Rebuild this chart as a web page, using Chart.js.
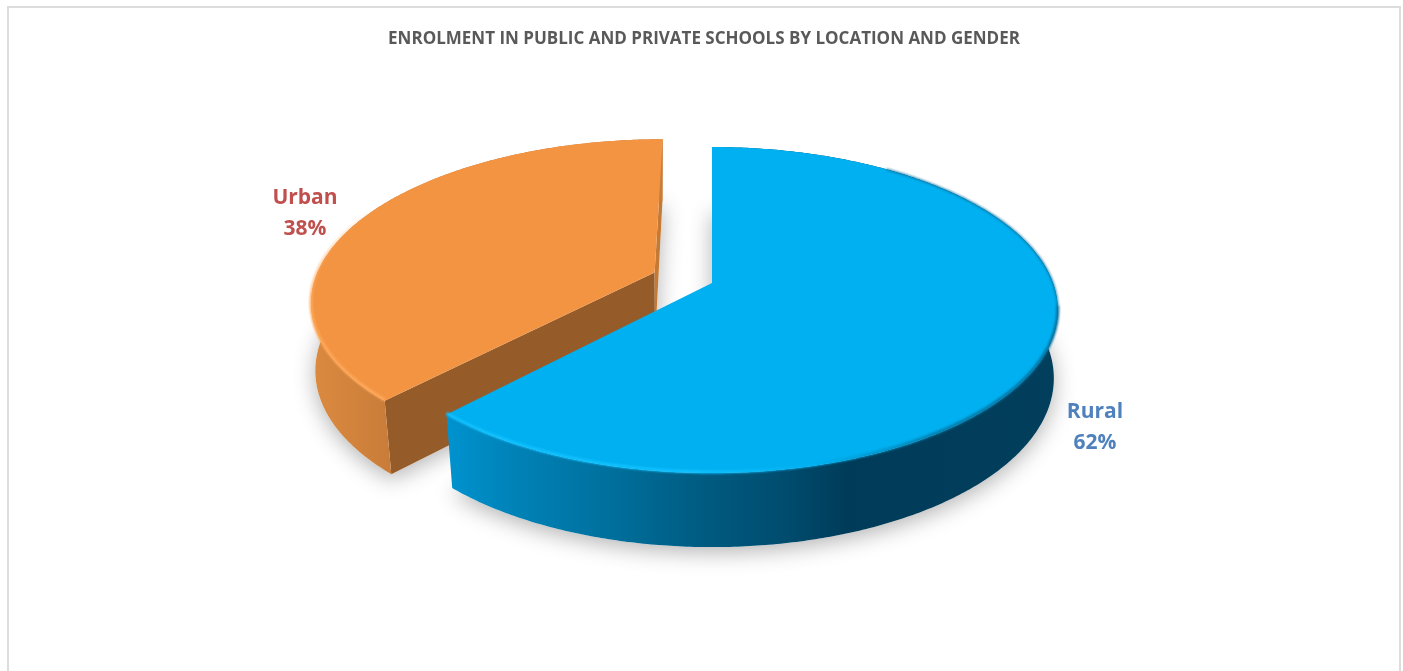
<!DOCTYPE html>
<html>
<head>
<meta charset="utf-8">
<title>Enrolment</title>
<script src="https://cdn.jsdelivr.net/npm/chart.js@4/dist/chart.umd.min.js"></script>
<style>
  html, body { margin: 0; padding: 0; background: #fff; overflow: hidden; }
  #frame { position: absolute; left: 7px; top: 6px; width: 1390px; height: 665px; border: 2px solid #dcdcdc; border-bottom: none; }
  canvas { display: block; }
</style>
</head>
<body>
<div id="frame"><canvas id="pieChart" width="1390" height="663"></canvas></div>
<script>
const categories = ['Rural', 'Urban'];
const shares = [62, 38];
const titleText = 'ENROLMENT IN PUBLIC AND PRIVATE SCHOOLS BY LOCATION AND GENDER';

// Perspective view of the pie: top face and bottom face, canvas pixels
const topFace = {cx: 703, cy: 275, rx: 341, ry: 158.5, p: 0.1656};
const bottomFace = {cx: 703, cy: 345, rx: 338, ry: 165, p: 0.15};
const explode = [0, 0.183];

const labelPos = [{x: 1086, y: 404}, {x: 296, y: 190}];
const labelColors = ['#4f81bd', '#c0504d'];

function project(face, u, v) {
  const s = 1 / (1 - face.p * v);
  return {x: face.cx + face.rx * u * s, y: face.cy + face.ry * v * s};
}

// outline points of a slice, a1 to a2, in the flat unit circle
function arcPoints(face, a1, a2, du, dv) {
  const pts = [];
  const steps = Math.ceil((a2 - a1) / 0.01);
  for (let i = 0; i <= steps; i++) {
    const a = a1 + (a2 - a1) * i / steps;
    pts.push(project(face, Math.cos(a) + du, Math.sin(a) + dv));
  }
  return pts;
}

function tracePoly(ctx, pts) {
  ctx.beginPath();
  pts.forEach((p, i) => i ? ctx.lineTo(p.x, p.y) : ctx.moveTo(p.x, p.y));
  ctx.closePath();
}

function traceLine(ctx, pts, dy) {
  ctx.beginPath();
  pts.forEach((p, i) => i ? ctx.lineTo(p.x, p.y + dy) : ctx.moveTo(p.x, p.y + dy));
}

function hGradient(ctx, x1, x2, stops) {
  const g = ctx.createLinearGradient(x1, 0, x2, 0);
  stops.forEach(s => g.addColorStop(s[0], s[1]));
  return g;
}

const pie3d = {
  id: 'pie3d',
  beforeDatasetsDraw(chart) {
    const ctx = chart.ctx;
    const arcs = chart.getDatasetMeta(0).data;
    const slices = arcs.map((arc, i) => {
      const p = arc.getProps(['startAngle', 'endAngle'], true);
      const mid = (p.startAngle + p.endAngle) / 2;
      const du = Math.cos(mid) * explode[i];
      const dv = Math.sin(mid) * explode[i];
      return {
        a1: p.startAngle, a2: p.endAngle, du, dv,
        color: arc.options.backgroundColor,
        topArc: arcPoints(topFace, p.startAngle, p.endAngle, du, dv),
        botArc: arcPoints(bottomFace, p.startAngle, p.endAngle, du, dv),
        topApex: project(topFace, du, dv),
        botApex: project(bottomFace, du, dv)
      };
    });

    // soft shadows first, under both slices
    ctx.save();
    ctx.shadowColor = 'rgba(0,0,0,0.3)';
    ctx.shadowBlur = 22;
    ctx.shadowOffsetY = 5;
    ctx.fillStyle = '#fff';
    slices.forEach(s => {
      tracePoly(ctx, [s.botApex].concat(s.botArc));
      ctx.fill();
    });
    ctx.restore();

    // Urban behind, Rural in front
    drawUrban(ctx, slices[1]);
    drawRural(ctx, slices[0]);
    return false;
  },
  // afterDatasetsDraw is skipped when beforeDatasetsDraw returns false
  afterDraw(chart) {
    const ctx = chart.ctx;
    ctx.save();
    ctx.font = 'bold 21px "Open Sans"';
    ctx.textAlign = 'center';
    ctx.textBaseline = 'middle';
    categories.forEach((c, i) => {
      ctx.fillStyle = labelColors[i];
      ctx.fillText(c, labelPos[i].x, labelPos[i].y);
      ctx.fillText(shares[i] + '%', labelPos[i].x, labelPos[i].y + 31);
    });
    ctx.restore();
  }
};

function drawUrban(ctx, s) {
  const last = s.topArc.length - 1;
  // cut face towards the Rural slice
  tracePoly(ctx, [s.topApex, s.topArc[0], s.botArc[0], s.botApex]);
  ctx.fillStyle = '#955b29';
  ctx.fill();
  // thin cut face at the back
  tracePoly(ctx, [s.topApex, s.topArc[last], s.botArc[last], s.botApex]);
  ctx.fillStyle = '#c47a35';
  ctx.fill();
  // curved side
  tracePoly(ctx, s.topArc.concat(s.botArc.slice().reverse()));
  ctx.fillStyle = hGradient(ctx, 300, 385, [[0, '#dc8a40'], [1, '#c87c38']]);
  ctx.fill();
  // top
  tracePoly(ctx, [s.topApex].concat(s.topArc));
  ctx.fillStyle = s.color;
  ctx.fill();
  // bevel highlight on the rim
  ctx.save();
  const g = ctx.createLinearGradient(0, 200, 0, 300);
  g.addColorStop(0, 'rgba(255,170,90,0)');
  g.addColorStop(1, 'rgba(255,170,90,0.95)');
  ctx.strokeStyle = g;
  ctx.lineWidth = 3;
  ctx.filter = 'blur(1px)';
  traceLine(ctx, s.topArc, -1);
  ctx.stroke();
  ctx.restore();
}

function drawRural(ctx, s) {
  // curved side
  tracePoly(ctx, s.topArc.concat(s.botArc.slice().reverse()));
  ctx.fillStyle = hGradient(ctx, 441, 1051, [
    [0, '#0092ce'], [0.1, '#0083b8'], [0.29, '#006c98'], [0.42, '#005a80'],
    [0.55, '#004c6e'], [0.65, '#003c59'], [1, '#023f5d']
  ]);
  ctx.fill();
  // top
  tracePoly(ctx, [s.topApex].concat(s.topArc));
  ctx.fillStyle = s.color;
  ctx.fill();

  // rim, split where the arc turns from the back to the front
  const splitAt = Math.round((0.15 - s.a1) / (s.a2 - s.a1) * (s.topArc.length - 1));
  const backStart = Math.round((-0.95 - s.a1) / (s.a2 - s.a1) * (s.topArc.length - 1));
  ctx.save();
  ctx.filter = 'blur(1px)';
  ctx.strokeStyle = '#046f9c';
  ctx.lineWidth = 1.5;
  traceLine(ctx, s.topArc.slice(backStart, splitAt + 1), 0);
  ctx.stroke();
  ctx.strokeStyle = hGradient(ctx, 441, 1051, [
    [0, '#12c2ff'], [0.4, '#12c2ff'], [0.6, '#00b0f0'], [0.8, '#027aa8'], [1, '#046f9c']
  ]);
  ctx.lineWidth = 3;
  traceLine(ctx, s.topArc.slice(splitAt), -1);
  ctx.stroke();
  ctx.restore();
}

new Chart(document.getElementById('pieChart'), {
  type: 'pie',
  data: {
    labels: categories,
    datasets: [{
      data: shares,
      backgroundColor: ['#00b0f0', '#f39443'],
      borderWidth: 0
    }]
  },
  options: {
    responsive: false,
    animation: false,
    plugins: {
      legend: {display: false},
      tooltip: {enabled: false},
      title: {
        display: true,
        text: titleText,
        color: '#595959',
        font: {family: 'Open Sans', size: 17, weight: 'bold'},
        padding: {top: 21, bottom: 20}
      }
    }
  },
  plugins: [pie3d]
});
</script>
</body>
</html>
